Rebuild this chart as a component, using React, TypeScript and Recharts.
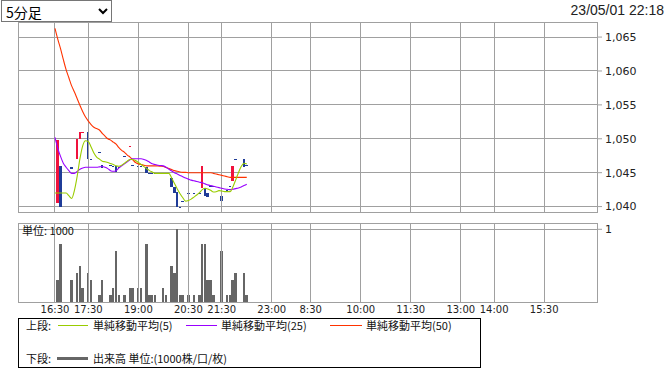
import React from "react";
import { ComposedChart, Bar, Line, XAxis, YAxis, CartesianGrid, ReferenceLine, ReferenceArea } from "recharts";

// 5-minute slots on the x axis; 16:30 is slot 13
const tickSlots = [13, 25, 43, 61, 73, 91, 105, 123, 141, 159, 171, 189];
const tickLabels = ["16:30", "17:30", "19:00", "20:30", "21:30", "23:00", "8:30", "10:00", "11:30", "13:00", "14:00", "15:30"];
const firstSlot = 13;
const priceTicks = [1040, 1045, 1050, 1055, 1060, 1065];
const volumeTicks = [1];

// one entry per slot from 16:30 (null = no trade)
const opens = [
  null, 1040.6, 1046.0, null, null, null, 1045.8, null, 1047.0, 1050.0,
  1050.9, null, 1051.0, 1047.0, null, null, 1048.0, 1046.1, null, null,
  1046.1, 1046.0, 1046.0, 1045.9, null, 1047.4, null, 1048.9, 1046.2, null,
  1046.0, 1046.0, null, 1045.8, 1044.9, 1044.9, 1044.9, null, null, 1045.0,
  1045.0, null, 1044.2, 1042.9, 1042.1, 1040.0, 1040.8, null, 1042.0, null,
  1042.0, null, 1042.0, 1042.8, 1042.8, 1042.0, 1043.0, 1043.0, null, null,
  1041.5, null, 1042.5, 1043.0, 1043.8, 1047.0, null, null, 1047.0, 1046.2,
];
const closes = [
  null, 1049.8, 1039.9, null, null, null, 1045.6, null, 1050.0, 1051.0,
  1051.0, null, 1047.0, 1047.0, null, null, 1047.9, 1045.7, null, null,
  1046.0, 1046.0, 1045.1, 1045.9, null, 1047.3, null, 1049.0, 1046.1, null,
  1046.0, 1046.0, null, 1044.9, 1044.9, 1044.9, 1044.9, null, null, 1045.0,
  1045.0, null, 1042.9, 1042.0, 1040.0, 1040.0, 1040.8, null, 1042.0, null,
  1042.0, null, 1042.0, 1046.0, 1041.5, 1041.4, 1043.0, 1043.0, null, null,
  1040.8, null, 1042.5, 1043.0, 1046.0, 1047.0, null, null, 1045.9, 1046.2,
];
// volume in thousands
const volumes = [
  null, 0.3, 0.8, null, null, null, 0.3, null, 0.4, 0.5,
  0.2, null, 0.4, 0.3, null, null, 0.1, 0.3, null, null,
  0.1, 0.2, 0.7, 0.1, null, 0.1, null, 0.2, 0.2, null,
  0.2, 0.2, null, 0.8, 0.1, 0.1, 0.1, null, null, 0.2,
  0.1, null, 0.5, 0.4, 1.0, 0.1, 0.1, null, 0.1, null,
  0.1, null, 0.1, 0.8, 0.8, 0.3, 0.3, 0.1, null, null,
  0.7, null, 0.1, 0.1, 0.3, 0.4, null, null, 0.4, 0.1,
];
const sma5 = [
  1042.0, 1042.0, 1042.0, 1042.0, 1042.0, 1041.6, 1041.2, 1042.4, 1044.5, 1047.1,
  1049.0, 1049.7, 1049.6, 1048.8, 1047.9, 1047.3, 1047.0, 1046.7, 1046.6, 1046.5,
  1046.35, 1046.2, 1046.0, 1045.95, 1046.1, 1046.4, 1046.7, 1046.95, 1046.95, 1046.8,
  1046.5, 1046.2, 1045.9, 1045.6, 1045.3, 1045.1, 1044.9, 1044.9, 1044.9, 1044.9,
  1044.9, 1044.9, 1044.2, 1043.4, 1042.6, 1041.9, 1041.3, 1040.8, 1040.9, 1041.1,
  1041.4, 1041.7, 1042.05, 1042.5, 1042.7, 1042.6, 1042.4, 1042.15, 1042.2, 1042.35,
  1042.3, 1042.2, 1042.2, 1042.2, 1042.9, 1043.9, 1045.0, 1045.9, 1046.4, 1046.3,
];
const sma25 = [
  1050.2, 1048.6, 1047.4, 1046.4, 1045.8, 1045.3, 1044.9, 1044.9, 1045.2, 1045.5,
  1045.7, 1045.8, 1045.8, 1045.8, 1045.8, 1045.8, 1045.85, 1045.9, 1045.8, 1045.6,
  1045.3, 1045.2, 1045.3, 1045.7, 1046.0, 1046.3, 1046.6, 1046.9, 1047.05, 1047.05,
  1047.05, 1047.05, 1046.95, 1046.8, 1046.55, 1046.3, 1046.2, 1046.1, 1046.05, 1046.0,
  1045.8, 1045.5, 1045.25, 1045.0, 1044.8, 1044.6, 1044.4, 1044.2, 1044.05, 1043.9,
  1043.8, 1043.7, 1043.6, 1043.5, 1043.35, 1043.2, 1043.1, 1043.0, 1042.9, 1042.8,
  1042.7, 1042.6, 1042.55, 1042.5, 1042.55, 1042.65, 1042.75, 1042.9, 1043.1, 1043.3,
];
const sma50 = [
  1066.3, 1064.7, 1063.3, 1061.7, 1060.2, 1059.0, 1057.8, 1056.9, 1055.9, 1054.9,
  1054.0, 1053.2, 1052.6, 1052.1, 1051.7, 1051.5, 1051.3, 1050.8, 1050.4, 1050.0,
  1049.8, 1049.5, 1049.2, 1048.7, 1048.3, 1048.0, 1047.6, 1047.3, 1046.9, 1046.5,
  1046.3, 1046.2, 1046.1, 1046.0, 1046.0, 1046.0, 1046.0, 1046.0, 1045.95, 1045.9,
  1045.75, 1045.6, 1045.45, 1045.3, 1045.2, 1045.1, 1045.05, 1045.05, 1045.0, 1045.0,
  1045.0, 1045.0, 1045.0, 1045.0, 1045.0, 1045.0, 1045.0, 1044.9, 1044.8, 1044.7,
  1044.6, 1044.5, 1044.4, 1044.3, 1044.3, 1044.3, 1044.3, 1044.3, 1044.3, 1044.3,
];

const GRID = "#a0a0a0";
const RED = "#f0123c";
const BLUE = "#1f3c98";
const GREEN = "#99cc00";
const PURPLE = "#9900ff";
const ORANGE = "#ff3300";
const VOL = "#666666";
const NUM_FONT = '"DejaVu Sans", sans-serif';
const JP_FONT = '"Noto Sans CJK JP", sans-serif';
const X_DOMAIN: [number, number] = [-0.3, 208];
const PRICE_DOMAIN: [number, number] = [1039.2, 1067.15];
const VOL_DOMAIN: [number, number] = [0, 1.082];
const SLOT_W = 2.78;

const rows = sma5.map((_, i) => {
  const o = opens[i];
  const c = closes[i];
  return {
    slot: firstSlot + i,
    open: o,
    close: c,
    body: o == null || c == null ? null : [Math.min(o, c), Math.max(o, c)],
    vol: volumes[i],
    sma5: sma5[i],
    sma25: sma25[i],
    sma50: sma50[i],
  };
});

const Candle = (props: any) => {
  const { x, y, width, height, payload } = props;
  if (!payload || payload.open == null || !Number.isFinite(y) || !Number.isFinite(height)) return null;
  const color = payload.close > payload.open ? RED : BLUE;
  return <rect x={x} y={y} width={width} height={Math.max(height, 1)} fill={color} shapeRendering="crispEdges" />;
};

const VolBar = (props: any) => {
  const { x, y, width, height, payload } = props;
  if (!payload || payload.vol == null || !Number.isFinite(y) || !(height > 0)) return null;
  return <rect x={x} y={y} width={width} height={height} fill={VOL} shapeRendering="crispEdges" />;
};

const fmtTime = (v: number) => tickLabels[tickSlots.indexOf(v)] ?? "";

function LegendBox() {
  const text: React.CSSProperties = { position: "absolute", fontFamily: JP_FONT, fontSize: 11, lineHeight: "14px", color: "#111", whiteSpace: "nowrap" };
  const line = (left: number, top: number, width: number, h: number, color: string): React.CSSProperties => ({
    position: "absolute", left, top, width, height: h, background: color,
  });
  return (
    <>
      <div style={{ position: "absolute", left: 18, top: 318, width: 463, height: 50, border: "1px solid #000", boxSizing: "border-box" }} />
      <span style={{ ...text, left: 26, top: 318 }}>上段:</span>
      <div style={line(58, 325, 30, 1, GREEN)} />
      <span style={{ ...text, left: 93, top: 318 }}>単純移動平均(5)</span>
      <div style={line(186, 325, 31, 1, PURPLE)} />
      <span style={{ ...text, left: 221, top: 318 }}>単純移動平均(25)</span>
      <div style={line(330, 325, 32, 1, ORANGE)} />
      <span style={{ ...text, left: 366, top: 318 }}>単純移動平均(50)</span>
      <span style={{ ...text, left: 26, top: 351 }}>下段:</span>
      <div style={line(57, 357, 31, 3, VOL)} />
      <span style={{ ...text, left: 93, top: 351 }}>出来高 単位:(1000株/口/枚)</span>
    </>
  );
}

export default function App() {
  return (
    <div style={{ position: "fixed", left: 0, top: 0, width: 670, height: 372, background: "#fff", overflow: "hidden" }}>
      <div style={{ position: "absolute", left: 0, top: 0 }}>
        <ComposedChart width={670} height={214} data={rows} margin={{ top: 22.5, right: 0, left: 18, bottom: 2 }}>
          <XAxis dataKey="slot" type="number" domain={X_DOMAIN} allowDataOverflow ticks={tickSlots} hide />
          <YAxis
            orientation="right"
            width={73}
            domain={PRICE_DOMAIN}
            allowDataOverflow
            ticks={priceTicks}
            interval={0}
            axisLine={false}
            tickLine={{ stroke: GRID }}
            tickSize={5}
            tickMargin={3}
            tick={{ fontSize: 11, fill: "#222", fontFamily: NUM_FONT }}
            tickFormatter={(v: number) => v.toLocaleString("en-US")}
          />
          <CartesianGrid vertical={false} stroke={GRID} shapeRendering="crispEdges" />
          {tickSlots.map((s) => (
            <ReferenceLine key={s} x={s} stroke={GRID} shapeRendering="crispEdges" />
          ))}
          <ReferenceArea x1={X_DOMAIN[0]} x2={X_DOMAIN[1]} y1={PRICE_DOMAIN[0]} y2={PRICE_DOMAIN[1]} fill="none" stroke={GRID} strokeOpacity={1} fillOpacity={0} shapeRendering="crispEdges" />
          <Bar dataKey="body" barSize={SLOT_W} shape={Candle} isAnimationActive={false} />
          <Line dataKey="sma50" type="monotone" stroke={ORANGE} strokeWidth={1.1} dot={false} activeDot={false} connectNulls isAnimationActive={false} />
          <Line dataKey="sma25" type="monotone" stroke={PURPLE} strokeWidth={1.1} dot={false} activeDot={false} connectNulls isAnimationActive={false} />
          <Line dataKey="sma5" type="monotone" stroke={GREEN} strokeWidth={1.1} dot={false} activeDot={false} connectNulls isAnimationActive={false} />
        </ComposedChart>
      </div>
      <div style={{ position: "absolute", left: 0, top: 214 }}>
        <ComposedChart width={670} height={116} data={rows} margin={{ top: 9.3, right: 0, left: 18, bottom: 7.7 }}>
          <XAxis
            dataKey="slot"
            type="number"
            domain={X_DOMAIN}
            allowDataOverflow
            ticks={tickSlots}
            interval={0}
            height={20}
            axisLine={false}
            tickLine={false}
            tickSize={0}
            tickMargin={4}
            tick={{ fontSize: 10, fill: "#222", fontFamily: NUM_FONT }}
            tickFormatter={fmtTime}
          />
          <YAxis
            orientation="right"
            width={73}
            domain={VOL_DOMAIN}
            allowDataOverflow
            ticks={volumeTicks}
            interval={0}
            axisLine={false}
            tickLine={{ stroke: GRID }}
            tickSize={5}
            tickMargin={3}
            tick={{ fontSize: 11, fill: "#222", fontFamily: NUM_FONT }}
          />
          <CartesianGrid vertical={false} stroke={GRID} shapeRendering="crispEdges" />
          {tickSlots.map((s) => (
            <ReferenceLine key={s} x={s} stroke={GRID} shapeRendering="crispEdges" />
          ))}
          <ReferenceArea x1={X_DOMAIN[0]} x2={X_DOMAIN[1]} y1={VOL_DOMAIN[0]} y2={VOL_DOMAIN[1]} fill="none" stroke={GRID} strokeOpacity={1} fillOpacity={0} shapeRendering="crispEdges" />
          <Bar dataKey="vol" barSize={SLOT_W} shape={VolBar} isAnimationActive={false} />
        </ComposedChart>
      </div>
      <span style={{ position: "absolute", left: 22, top: 223, fontFamily: JP_FONT, fontSize: 11, lineHeight: "14px", color: "#111" }}>単位: 1000</span>
      <select
        defaultValue="5"
        style={{ position: "absolute", left: 1, top: 0, width: 111, height: 22, fontSize: 14, fontFamily: JP_FONT, color: "#000", background: "#fff" }}
      >
        <option value="5">5分足</option>
      </select>
      <span style={{ position: "absolute", right: 6, top: 2, fontFamily: '"Liberation Sans", Arial, sans-serif', fontSize: 14, lineHeight: "16px", color: "#222" }}>
        23/05/01 22:18
      </span>
      <LegendBox />
    </div>
  );
}
